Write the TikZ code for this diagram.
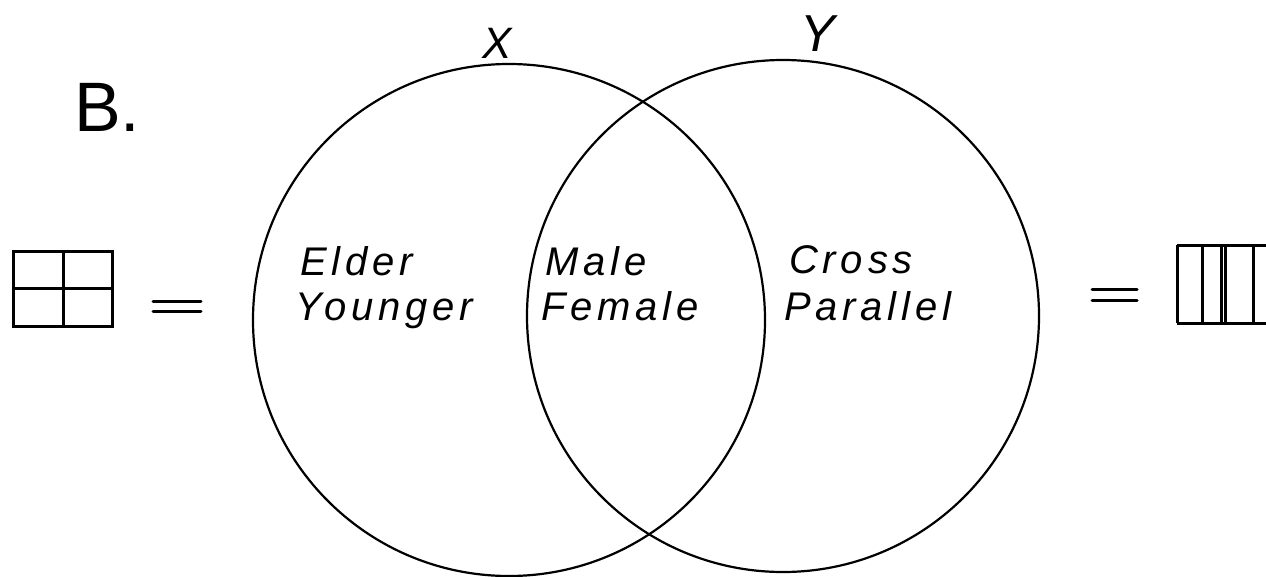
\documentclass[tikz,border=0pt]{standalone}
\usepackage{fontspec}
\setmainfont{Liberation Sans}
\newfontfamily\handfont[LetterSpace=12]{Liberation Sans}
\begin{document}
\begin{tikzpicture}[x=1pt,y=-1pt,
  ring/.style={draw=black,line width=2.2pt},
  boxline/.style={draw=black,line width=3pt},
  eqline/.style={draw=black,line width=3pt,line cap=round},
  hand/.style={anchor=base west,inner sep=0pt,font=\handfont\itshape\fontsize{40}{40}\selectfont},
  lbl/.style={inner sep=0pt,font=\itshape\fontsize{44}{44}\selectfont}]
\useasboundingbox (0,0) rectangle (1266,576);
\fill[white] (0,0) rectangle (1266,576);
% circles
\draw[ring] (509,320) circle[radius=256pt];
\draw[ring] (783,316) circle[radius=256pt];
% labels
\node[lbl] (X) at (497,43) {X};
\node[lbl,font=\itshape\fontsize{52}{52}\selectfont] (Y) at (818,34) {Y};
\node[anchor=base west,inner sep=0pt,font=\fontsize{70}{70}\selectfont] (B) at (74,131) {B.};
% texts
\node[hand] (elder) at (300,275) {Elder};
\node[hand] (younger) at (295,320) {Younger};
\node[hand] (male) at (545,275) {Male};
\node[hand] (female) at (541,320) {Female};
\node[hand] (cross) at (789,273) {Cross};
\node[hand] (parallel) at (784,320) {Parallel};
% left grid box
\draw[boxline] (13,251) rectangle (112,326);
\draw[boxline] (63,251) -- (63,326);
\draw[boxline] (13,288) -- (112,288);
% left equals
\draw[eqline] (153,301) -- (201,301);
\draw[eqline] (153,311) -- (201,311);
% right equals
\draw[eqline] (1092,289) -- (1137,289);
\draw[eqline] (1092,300) -- (1137,300);
% right bar box
\draw[boxline] (1177,245) -- (1270,245);
\draw[boxline] (1177,323) -- (1270,323);
\draw[boxline] (1177,245) -- (1177,323);
\draw[boxline] (1202,245) -- (1202,323);
\draw[boxline] (1221,245) -- (1221,323);
\draw[boxline] (1225,245) -- (1225,323);
\draw[boxline] (1253,245) -- (1253,323);
\end{tikzpicture}
\end{document}
